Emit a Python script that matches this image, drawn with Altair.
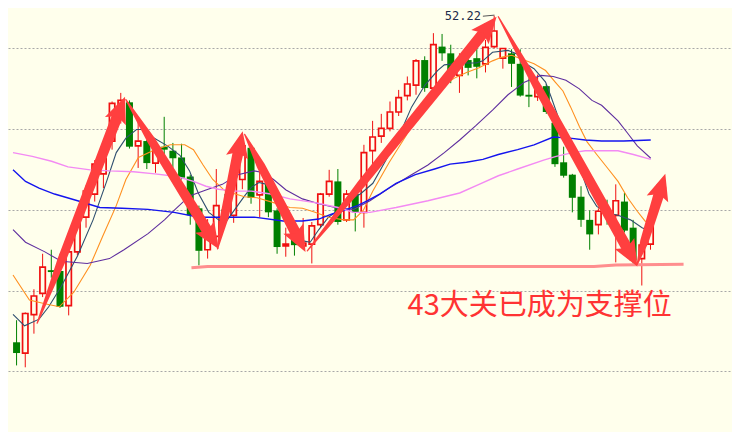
import math
import altair as alt
import pandas as pd

# ---------------- candle data (price) ----------------
opens = [40.08, 39.68, 41.11, 41.90, 42.76, 42.73, 41.44, 43.44, 44.73, 45.59,
         46.34, 47.56, 48.49, 49.00, 47.38, 47.56, 46.74, 47.35, 47.20, 46.95,
         46.24, 45.06, 43.52, 44.02, 45.02, 44.80, 46.13, 47.31, 45.56, 46.06,
         44.98, 43.66, 44.16, 43.66, 43.73, 44.45, 45.59, 46.06, 44.63, 45.59,
         44.91, 47.20, 47.74, 48.03, 48.64, 49.25, 49.64, 50.57, 49.53, 51.07,
         50.82, 50.00, 50.57, 50.64, 50.43, 51.07, 50.64, 50.82, 50.43, 49.28,
         49.21, 49.60, 48.24, 46.77, 46.31, 45.49, 44.63, 44.45, 44.91, 44.80,
         45.31, 44.34, 43.19, 43.73]
highs = [40.90, 41.19, 42.05, 43.37, 43.52, 43.37, 43.62, 44.70, 45.91, 46.85,
         47.06, 49.03, 49.35, 49.07, 48.39, 47.60, 47.60, 48.46, 47.49, 47.46,
         46.31, 45.16, 44.66, 46.52, 45.59, 46.24, 47.42, 47.38, 46.49, 46.13,
         45.06, 44.34, 44.23, 44.70, 44.55, 45.63, 46.49, 46.52, 45.74, 45.70,
         47.42, 48.31, 48.57, 49.03, 49.46, 49.96, 50.61, 50.71, 51.57, 51.54,
         51.14, 50.82, 50.82, 51.07, 51.32, 52.22, 51.00, 50.97, 50.97, 49.89,
         50.03, 49.68, 48.67, 47.35, 46.34, 45.88, 44.98, 45.06, 45.38, 45.95,
         45.63, 44.63, 43.69, 44.63]
lows = [39.22, 39.15, 40.40, 41.76, 42.48, 41.36, 41.08, 43.30, 44.34, 45.31,
        45.81, 47.24, 48.21, 47.28, 46.56, 46.52, 46.38, 46.88, 46.56, 46.13,
        44.45, 42.94, 43.19, 43.84, 44.45, 44.52, 45.77, 45.23, 44.73, 44.73,
        43.37, 43.26, 43.30, 43.55, 43.01, 44.34, 45.49, 44.45, 44.55, 44.20,
        44.34, 46.67, 47.49, 47.92, 48.49, 49.07, 49.28, 49.39, 49.10, 50.54,
        49.71, 49.35, 50.00, 49.89, 50.11, 51.00, 50.25, 49.57, 49.21, 48.82,
        49.05, 48.57, 46.60, 46.20, 44.91, 44.37, 43.52, 44.09, 44.45, 43.05,
        44.16, 43.01, 42.19, 43.52]
closes = [39.68, 41.15, 41.80, 42.87, 42.69, 41.40, 43.44, 44.66, 45.70, 46.70,
          46.92, 48.96, 49.07, 47.35, 47.56, 46.74, 47.38, 47.24, 46.92, 46.20,
          44.80, 43.48, 43.94, 45.16, 44.84, 46.09, 47.38, 45.45, 46.06, 44.91,
          43.62, 43.73, 43.69, 43.77, 44.41, 45.59, 46.06, 44.55, 45.59, 44.91,
          47.13, 47.71, 48.03, 48.64, 49.17, 49.68, 50.54, 49.53, 51.14, 50.82,
          49.96, 50.54, 50.28, 50.32, 51.04, 51.65, 51.00, 50.43, 49.25, 49.21,
          49.60, 48.64, 46.70, 46.27, 45.45, 44.63, 44.09, 44.95, 44.80, 45.34,
          44.23, 43.12, 43.69, 44.45]

# ---------------- moving-average lines (candle index, price) ----------------
ma5_i = [-0.41, 0.92, 2.59, 3.70, 5.14, 7.03, 8.81, 10.37, 11.48, 12.59, 13.81, 14.59,
         15.48, 17.37, 18.81, 19.92, 20.92, 22.14, 23.26, 24.03, 25.14, 26.26, 27.03,
         27.92, 28.81, 29.92, 31.03, 32.14, 33.14, 33.81, 34.81, 35.92, 37.03, 38.14,
         39.59, 41.03, 42.59, 44.03, 45.48, 47.03, 48.48, 49.26, 50.37, 51.81, 52.92,
         53.70, 54.81, 56.59, 57.70, 58.48, 59.59, 60.92, 61.59, 62.37, 63.14, 64.03,
         65.14, 65.92, 66.81, 68.14, 69.26, 70.70, 72.03, 73.03]
ma5_p = [41.12, 40.69, 40.94, 41.40, 42.15, 43.30, 44.63, 46.06, 47.13, 47.67, 47.99, 47.99,
         47.74, 47.38, 47.03, 46.45, 45.63, 44.91, 44.63, 44.52, 45.02, 45.52, 45.84,
         46.02, 45.95, 45.34, 44.63, 44.02, 43.84, 43.80, 44.27, 44.73, 44.98, 45.34,
         45.59, 45.99, 46.88, 47.74, 48.82, 49.64, 50.18, 50.39, 50.43, 50.46, 50.46,
         50.54, 50.86, 50.93, 50.79, 50.46, 50.25, 49.75, 49.17, 48.46, 47.85, 47.13,
         46.31, 45.59, 45.13, 44.88, 44.80, 44.63, 44.34, 44.20]

ma10_i = [-0.41, 1.48, 3.26, 4.92, 6.59, 8.48, 9.92, 11.48, 12.59, 14.03, 15.92, 17.70,
          19.37, 20.37, 21.48, 22.59, 24.03, 26.26, 27.70, 29.59, 31.48, 32.92, 34.37,
          35.92, 37.70, 38.81, 39.92, 41.03, 42.92, 44.81, 46.26, 47.37, 48.81, 50.37,
          51.81, 53.26, 54.81, 55.92, 57.03, 58.14, 59.59, 60.92, 62.03, 62.92, 63.81,
          64.81, 65.70, 66.81, 68.14, 69.26, 70.37, 71.48, 72.37, 73.03]
ma10_p = [42.58, 41.65, 41.51, 41.40, 41.94, 42.94, 44.02, 45.16, 46.13, 46.95, 47.24, 47.42,
          47.42, 47.24, 46.67, 46.13, 45.70, 45.49, 45.45, 45.27, 45.09, 45.06, 44.91,
          44.73, 44.63, 44.63, 44.98, 45.70, 46.77, 47.74, 48.57, 49.17, 49.53, 49.89,
          50.11, 50.28, 50.54, 50.68, 50.75, 50.61, 50.43, 50.18, 49.75, 49.42, 48.82,
          48.10, 47.53, 47.06, 46.52, 46.06, 45.45, 44.95, 44.59, 44.48]

ma20_i = [-0.41, 1.03, 3.26, 5.14, 8.14, 10.70, 12.37, 15.14, 17.03, 18.14, 19.92, 21.81,
          23.70, 25.48, 27.37, 28.48, 29.59, 31.03, 32.92, 34.81, 37.03, 38.81, 40.70,
          42.92, 45.48, 47.37, 49.26, 51.03, 52.92, 54.81, 56.59, 58.48, 60.37, 61.81,
          63.26, 64.81, 66.26, 67.37, 69.26, 70.37, 71.48, 73.03]
ma20_p = [44.27, 43.80, 43.44, 43.09, 43.01, 43.19, 43.52, 44.12, 44.63, 44.98, 45.52, 45.74,
          45.95, 46.31, 46.45, 46.38, 46.13, 45.74, 45.41, 45.23, 45.06, 45.02, 45.34,
          45.81, 46.31, 46.67, 47.13, 47.60, 48.14, 48.71, 49.28, 49.75, 50.00, 49.96,
          49.82, 49.50, 49.07, 48.89, 48.31, 47.85, 47.38, 46.92]

ma30_i = [-0.41, 1.03, 2.59, 4.37, 7.03, 9.59, 12.14, 15.14, 18.14, 21.03, 24.03, 27.37,
          30.70, 32.92, 34.81, 36.26, 37.70, 39.26, 40.37, 41.81, 43.70, 45.92, 48.14,
          49.92, 51.81, 53.70, 55.48, 57.70, 59.59, 61.81, 63.70, 65.48, 67.37, 69.92, 73.03]
ma30_p = [46.49, 46.06, 45.81, 45.59, 45.34, 45.09, 45.06, 45.02, 44.91, 44.73, 44.73, 44.73,
          44.59, 44.59, 44.66, 44.84, 44.98, 45.16, 45.34, 45.59, 45.99, 46.31, 46.52,
          46.70, 46.77, 46.88, 47.06, 47.24, 47.42, 47.71, 47.67, 47.60, 47.56, 47.56, 47.60]

ma60_i = [-0.41, 1.81, 4.03, 5.92, 8.48, 10.70, 13.48, 15.92, 18.48, 20.37, 21.81, 23.26,
          25.14, 27.03, 29.26, 31.48, 34.37, 37.03, 38.81, 40.70, 43.70, 47.37, 51.03,
          53.26, 55.48, 57.70, 60.70, 62.14, 64.03, 65.48, 67.37, 69.26, 71.03, 73.03]
ma60_p = [47.13, 46.99, 46.81, 46.60, 46.49, 46.45, 46.42, 46.34, 46.24, 46.06, 45.88, 45.77,
          45.70, 45.70, 45.59, 45.41, 45.27, 45.09, 44.91, 44.91, 45.09, 45.34, 45.63,
          45.95, 46.27, 46.52, 46.85, 46.99, 47.13, 47.20, 47.20, 47.20, 47.06, 46.88]

ma_colors = ["#2F4F6F", "#FF9020", "#5E2E9E", "#1414EE", "#F38AF3"]
ma_widths = [1.1, 1.1, 1.1, 1.4, 1.4]

# ---------------- support line at 43 ----------------
support_i = [20.14, 22.0, 66.5, 69.0, 76.81]
support_p = [42.85, 42.90, 42.90, 42.95, 42.98]

# ---------------- hand-drawn arrows (tail -> tip) ----------------
arrow_tail_i = [2.37, 12.59, 23.14, 26.26, 33.48, 55.48, 71.48]
arrow_tail_p = [40.79, 49.10, 43.55, 47.81, 43.48, 52.18, 42.98]
arrow_tip_i = [12.48, 23.26, 26.03, 33.26, 55.26, 71.48, 74.70]
arrow_tip_p = [49.21, 43.55, 47.92, 43.44, 52.18, 42.90, 46.34]

# ---------------- labels ----------------
high_label = "52.22"
high_label_i, high_label_p = 53.48, 52.22
high_mark_i = [53.70, 55.03]
high_mark_p = [52.20, 52.24]
note_text = "43大关已成为支撑位"
note_i, note_p = 45.03, 41.44
grid_values = [39, 42, 45, 48, 51]

# ---------------- chart ----------------
BG = "#FFFFEC"
RED = "#F01010"
GREEN = "#008000"
ARROW = "#FF3F3F"
W, H = 724, 424
X_DOMAIN = [-0.411, 81.811]
Y_DOMAIN = [36.745, 52.505]

xs = alt.Scale(domain=X_DOMAIN, nice=False, zero=False)
ys = alt.Scale(domain=Y_DOMAIN, nice=False, zero=False)
yaxis = alt.Axis(values=grid_values, grid=True, gridDash=[2, 2], gridColor="#A8A8A8",
                 gridWidth=1, labels=False, ticks=False, domain=False, title=None)


def X(f):
    return alt.X(f, type="quantitative", scale=xs, axis=None)


def Y(f):
    return alt.Y(f, type="quantitative", scale=ys, axis=yaxis)


cdf = pd.DataFrame({"i": list(range(len(opens))), "o": opens, "h": highs,
                    "l": lows, "c": closes})
up = cdf[cdf["c"] >= cdf["o"]]
down = cdf[cdf["c"] < cdf["o"]]

wick_up = alt.Chart(up).mark_rule(strokeWidth=1, color=RED).encode(X("i"), Y("l"), alt.Y2("h"))
wick_down = alt.Chart(down).mark_rule(strokeWidth=1, color=GREEN).encode(X("i"), Y("l"), alt.Y2("h"))
body_down = alt.Chart(down).mark_bar(width=7, color=GREEN, orient="vertical").encode(
    X("i"), Y("o"), alt.Y2("c"))
body_up = alt.Chart(up).mark_bar(width=5.4, fill=BG, stroke=RED, strokeWidth=1.7,
                                 orient="vertical").encode(X("i"), Y("o"), alt.Y2("c"))

ma_layers = []
for col, wdt, ii, pp in zip(ma_colors, ma_widths, [ma5_i, ma10_i, ma20_i, ma30_i, ma60_i],
                            [ma5_p, ma10_p, ma20_p, ma30_p, ma60_p]):
    ma_layers.append(alt.Chart(pd.DataFrame({"i": ii, "p": pp})).mark_line(
        color=col, strokeWidth=wdt).encode(X("i"), Y("p"), order="i:Q"))

sdf = pd.DataFrame({"i": support_i, "p": support_p})
support = alt.Chart(sdf).mark_line(color="#FF8E8E", strokeWidth=3).encode(X("i"), Y("p"))

SX = W / (X_DOMAIN[1] - X_DOMAIN[0])
SY = H / (Y_DOMAIN[1] - Y_DOMAIN[0])
HEAD_R = 15
trail_rows, head_rows = [], []
for k, (ti, tp, hi, hp) in enumerate(zip(arrow_tail_i, arrow_tail_p, arrow_tip_i, arrow_tip_p)):
    dx = (hi - ti) * SX
    dy = -(hp - tp) * SY
    L = math.hypot(dx, dy)
    ux, uy = dx / L, dy / L
    ci = hi - HEAD_R * ux / SX
    cp = hp + HEAD_R * uy / SY
    ang = math.degrees(math.atan2(ux, -uy)) % 360
    mi = ti + (ci - ti) * 0.3
    mp = tp + (cp - tp) * 0.3
    trail_rows += [{"arrow": k, "seq": 0, "i": ti, "p": tp, "w": 1.3},
                   {"arrow": k, "seq": 1, "i": mi, "p": mp, "w": 8.5},
                   {"arrow": k, "seq": 2, "i": ci, "p": cp, "w": 11.0}]
    head_rows.append({"i": ci, "p": cp, "ang": ang})

trails = alt.Chart(pd.DataFrame(trail_rows)).mark_trail(color=ARROW).encode(
    X("i"), Y("p"), size=alt.Size("w:Q", scale=None, legend=None),
    detail="arrow:N", order="seq:Q")
heads = alt.Chart(pd.DataFrame(head_rows)).mark_point(
    shape="M0,-1L0.75,0.75L0,0.4L-0.75,0.75Z", filled=True, size=(2 * HEAD_R) ** 2,
    color=ARROW, opacity=1, strokeWidth=0).encode(
    X("i"), Y("p"), angle=alt.Angle("ang:Q", scale=None))

hl = alt.Chart(pd.DataFrame({"i": [high_label_i], "p": [high_label_p], "t": [high_label]})
               ).mark_text(font="DejaVu Sans Mono", fontSize=12, color="#1C2B4A",
                           align="right", baseline="middle").encode(X("i"), Y("p"), text="t:N")
hm = alt.Chart(pd.DataFrame({"i": high_mark_i, "p": high_mark_p})).mark_line(
    color="#555555", strokeWidth=1).encode(X("i"), Y("p"))

note = alt.Chart(pd.DataFrame({"i": [note_i], "p": [note_p], "t": [note_text]})).mark_text(
    font="Noto Sans CJK SC", fontSize=29, color="#FF3333", align="left",
    baseline="middle").encode(X("i"), Y("p"), text="t:N")

chart = alt.layer(wick_up, wick_down, body_down, body_up, *ma_layers, support, trails, heads,
                  hl, hm, note
                  ).properties(width=W, height=H, padding=0,
                               autosize=alt.AutoSizeParams(type="none"),
                               background=BG).configure_view(strokeWidth=0)

chart.save("out.html", embed_options={"renderer": "svg", "actions": False})
